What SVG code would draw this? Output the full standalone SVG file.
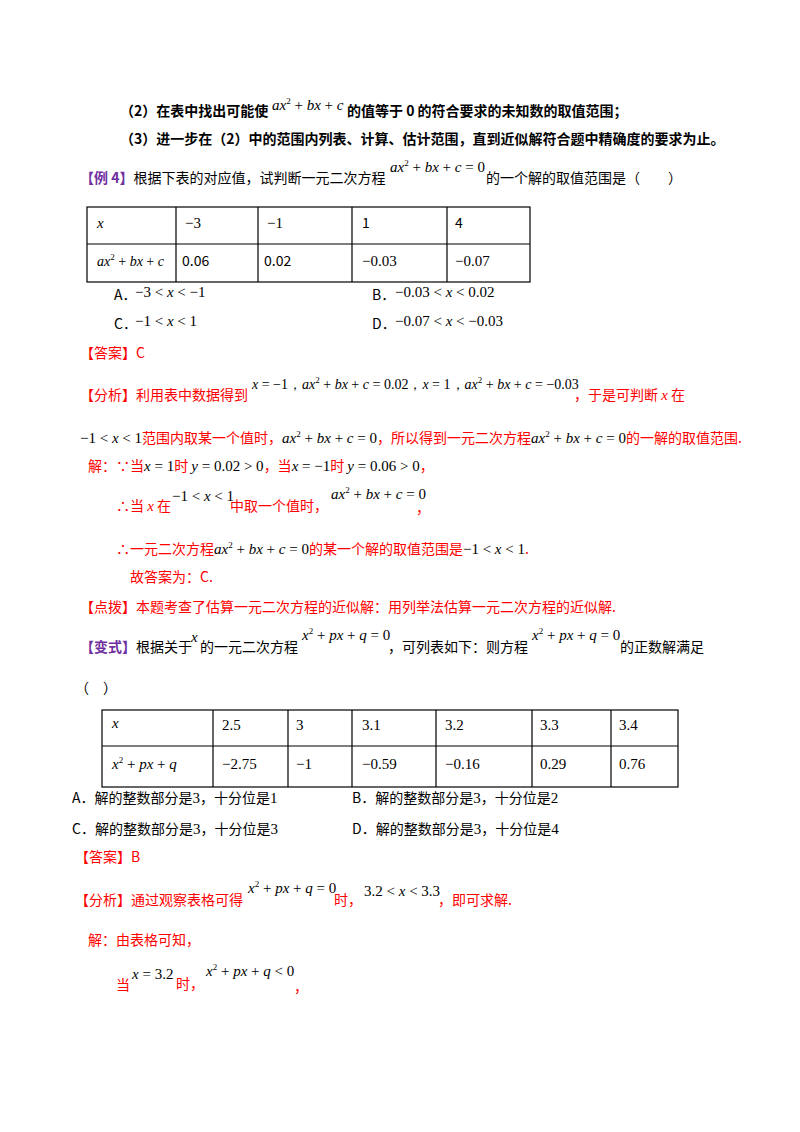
<svg xmlns="http://www.w3.org/2000/svg" width="800" height="1132" viewBox="0 0 800 1132">
<style>
text{font-family:"Noto Sans CJK SC","Noto Sans",sans-serif;font-size:14px;fill:#000}
.b{font-weight:bold}
.r{fill:#f00}
.k{fill:#000}
.p{fill:#7030a0;font-weight:bold}
.m{font-family:"Liberation Serif",serif;font-size:15px}
.n{font-size:14px}
.i{font-style:italic}
.s{font-size:9px}
.g{fill:none;stroke:#000;stroke-width:1.2}
</style>
<rect width="800" height="1132" fill="#fff"/>
<text x="120" y="116" class="b">（2）在表中找出可能使</text>
<text x="272" y="110" class="m"><tspan class="i">ax</tspan><tspan class="s" dy="-6">2</tspan><tspan dy="6"> + </tspan><tspan class="i">bx</tspan> + <tspan class="i">c</tspan></text>
<text x="347" y="116" class="b">的值等于 0 的符合要求的未知数的取值范围；</text>
<text x="120" y="144" class="b">（3）进一步在（2）中的范围内列表、计算、估计范围，直到近似解符合题中精确度的要求为止。</text>
<text x="80" y="183"><tspan class="p">【例 4】</tspan>根据下表的对应值，试判断一元二次方程</text>
<text x="390" y="172" class="m"><tspan class="i">ax</tspan><tspan class="s" dy="-6">2</tspan><tspan dy="6"> + </tspan><tspan class="i">bx</tspan> + <tspan class="i">c</tspan> = 0</text>
<text x="486" y="183">的一个解的取值范围是（　　）</text>
<g id="table1">
<rect x="87" y="207" width="443" height="75" class="g"/>
<path d="M87 244H530M176 207V282M258 207V282M352 207V282M447 207V282" class="g"/>
<text x="97" y="228" class="m i">x</text>
<text x="185" y="228" class="m">−3</text>
<text x="267" y="228" class="m">−1</text>
<text x="362" y="228">1</text>
<text x="455" y="228">4</text>
<text x="97" y="266" class="m n"><tspan class="i">ax</tspan><tspan class="s" dy="-6">2</tspan><tspan dy="6"> + </tspan><tspan class="i">bx</tspan> + <tspan class="i">c</tspan></text>
<text x="182" y="266">0.06</text>
<text x="264" y="266">0.02</text>
<text x="362" y="266" class="m">−0.03</text>
<text x="455" y="266" class="m">−0.07</text>
</g>
<text x="114" y="300">A．</text><text x="135" y="297" class="m">−3 &lt; <tspan class="i">x</tspan> &lt; −1</text>
<text x="372" y="300">B．</text><text x="395" y="297" class="m">−0.03 &lt; <tspan class="i">x</tspan> &lt; 0.02</text>
<text x="114" y="329">C．</text><text x="135" y="326" class="m">−1 &lt; <tspan class="i">x</tspan> &lt; 1</text>
<text x="372" y="329">D．</text><text x="395" y="326" class="m">−0.07 &lt; <tspan class="i">x</tspan> &lt; −0.03</text>
<text x="80" y="358" class="r">【答案】C</text>
<text x="80" y="400" class="r">【分析】利用表中数据得到</text>
<text x="252" y="389" class="m n"><tspan class="i">x</tspan> = −1，<tspan class="i">ax</tspan><tspan class="s" dy="-6">2</tspan><tspan dy="6"> + </tspan><tspan class="i">bx</tspan> + <tspan class="i">c</tspan> = 0.02，<tspan class="i">x</tspan> = 1，<tspan class="i">ax</tspan><tspan class="s" dy="-6">2</tspan><tspan dy="6"> + </tspan><tspan class="i">bx</tspan> + <tspan class="i">c</tspan> = −0.03</text>
<text x="574" y="400" class="r">，于是可判断 <tspan class="m i r">x</tspan> 在</text>
<text x="80" y="443" class="r"><tspan class="m k">−1 &lt; <tspan class="i">x</tspan> &lt; 1</tspan>范围内取某一个值时，<tspan class="m k"><tspan class="i">ax</tspan><tspan class="s" dy="-6">2</tspan><tspan dy="6"> + </tspan><tspan class="i">bx</tspan> + <tspan class="i">c</tspan> = 0</tspan>，所以得到一元二次方程<tspan class="m k"><tspan class="i">ax</tspan><tspan class="s" dy="-6">2</tspan><tspan dy="6"> + </tspan><tspan class="i">bx</tspan> + <tspan class="i">c</tspan> = 0</tspan>的一解的取值范围.</text>
<text x="88" y="471" class="r">解：∵当<tspan class="m i k">x</tspan><tspan class="m k"> = 1</tspan>时 <tspan class="m i k">y</tspan><tspan class="m k"> = 0.02 &gt; 0</tspan>，当<tspan class="m i k">x</tspan><tspan class="m k"> = −1</tspan>时 <tspan class="m i k">y</tspan><tspan class="m k"> = 0.06 &gt; 0</tspan>，</text>
<text x="116" y="511" class="r">∴当 <tspan class="m i r">x</tspan> 在</text>
<text x="172" y="501" class="m">−1 &lt; <tspan class="i">x</tspan> &lt; 1</text>
<text x="230" y="511" class="r">中取一个值时，</text>
<text x="331" y="499" class="m"><tspan class="i">ax</tspan><tspan class="s" dy="-6">2</tspan><tspan dy="6"> + </tspan><tspan class="i">bx</tspan> + <tspan class="i">c</tspan> = 0</text>
<text x="416" y="513" class="r">，</text>
<text x="116" y="554" class="r">∴一元二次方程<tspan class="m k"><tspan class="i">ax</tspan><tspan class="s" dy="-6">2</tspan><tspan dy="6"> + </tspan><tspan class="i">bx</tspan> + <tspan class="i">c</tspan> = 0</tspan>的某一个解的取值范围是<tspan class="m k">−1 &lt; <tspan class="i">x</tspan> &lt; 1</tspan>.</text>
<text x="130" y="582" class="r">故答案为：C.</text>
<text x="80" y="612" class="r">【点拨】本题考查了估算一元二次方程的近似解：用列举法估算一元二次方程的近似解.</text>
<text x="80" y="652"><tspan class="p">【变式】</tspan>根据关于</text>
<text x="191" y="642" class="m i">x</text>
<text x="200" y="652">的一元二次方程</text>
<text x="302" y="640" class="m"><tspan class="i">x</tspan><tspan class="s" dy="-6">2</tspan><tspan dy="6"> + </tspan><tspan class="i">px</tspan> + <tspan class="i">q</tspan> = 0</text>
<text x="388" y="652">，可列表如下：则方程</text>
<text x="532" y="640" class="m"><tspan class="i">x</tspan><tspan class="s" dy="-6">2</tspan><tspan dy="6"> + </tspan><tspan class="i">px</tspan> + <tspan class="i">q</tspan> = 0</text>
<text x="620" y="652">的正数解满足</text>
<text x="75" y="693">（　）</text>
<g id="table2">
<rect x="102" y="710" width="576" height="77" class="g"/>
<path d="M102 746H678M213 710V787M288 710V787M352 710V787M436 710V787M532 710V787M611 710V787" class="g"/>
<text x="112" y="728" class="m i">x</text>
<text x="222" y="730" class="m">2.5</text>
<text x="296" y="730" class="m">3</text>
<text x="362" y="730" class="m">3.1</text>
<text x="445" y="730" class="m">3.2</text>
<text x="540" y="730" class="m">3.3</text>
<text x="619" y="730" class="m">3.4</text>
<text x="112" y="769" class="m"><tspan class="i">x</tspan><tspan class="s" dy="-6">2</tspan><tspan dy="6"> + </tspan><tspan class="i">px</tspan> + <tspan class="i">q</tspan></text>
<text x="222" y="769" class="m">−2.75</text>
<text x="296" y="769" class="m">−1</text>
<text x="362" y="769" class="m">−0.59</text>
<text x="445" y="769" class="m">−0.16</text>
<text x="540" y="769" class="m">0.29</text>
<text x="619" y="769" class="m">0.76</text>
</g>
<text x="72" y="803">A．解的整数部分是<tspan class="m">3</tspan>，十分位是<tspan class="m">1</tspan></text>
<text x="352" y="803">B．解的整数部分是<tspan class="m">3</tspan>，十分位是<tspan class="m">2</tspan></text>
<text x="72" y="834">C．解的整数部分是<tspan class="m">3</tspan>，十分位是<tspan class="m">3</tspan></text>
<text x="352" y="834">D．解的整数部分是<tspan class="m">3</tspan>，十分位是<tspan class="m">4</tspan></text>
<text x="75" y="862" class="r">【答案】B</text>
<text x="75" y="905" class="r">【分析】通过观察表格可得</text>
<text x="248" y="893" class="m"><tspan class="i">x</tspan><tspan class="s" dy="-6">2</tspan><tspan dy="6"> + </tspan><tspan class="i">px</tspan> + <tspan class="i">q</tspan> = 0</text>
<text x="334" y="905" class="r">时，</text>
<text x="364" y="896" class="m">3.2 &lt; <tspan class="i">x</tspan> &lt; 3.3</text>
<text x="438" y="905" class="r">，即可求解.</text>
<text x="88" y="945" class="r">解：由表格可知，</text>
<text x="116" y="990" class="r">当</text>
<text x="132" y="979" class="m"><tspan class="i">x</tspan> = 3.2</text>
<text x="176" y="989" class="r">时，</text>
<text x="206" y="976" class="m"><tspan class="i">x</tspan><tspan class="s" dy="-6">2</tspan><tspan dy="6"> + </tspan><tspan class="i">px</tspan> + <tspan class="i">q</tspan> &lt; 0</text>
<text x="294" y="992" class="r">，</text>
</svg>
